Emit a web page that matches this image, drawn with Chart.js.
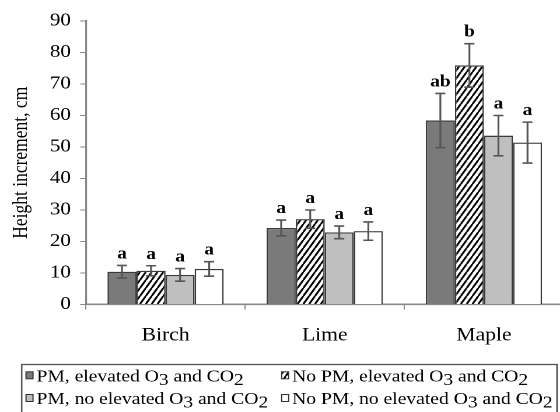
<!DOCTYPE html>
<html lang="en">
<head>
<meta charset="UTF-8" />
<title>Height increment</title>
<script src="https://cdn.jsdelivr.net/npm/chart.js"></script>
<style>
    html, body {
        margin: 0;
        padding: 0;
        width: 560px;
        height: 412px;
        overflow: hidden;
        background: #fff;
    }

    /* the original figure is stretched sideways, so draw narrow and widen */
    #wrap {
        width: 483px;
        height: 412px;
        transform: scaleX(1.1667);
        transform-origin: 0 0;
    }
</style>
</head>
<body>
<div id="wrap"><canvas id="grafico"></canvas></div>

<script>
    const categories = ['Birch', 'Lime', 'Maple'];
    const seriesLabels = [
        'PM, elevated O₃ and CO₂',
        'No PM, elevated O₃ and CO₂',
        'PM, no elevated O₃ and CO₂',
        'No PM, no elevated O₃ and CO₂'
    ];

    const pmElevated = [10.4, 24.3, 58.4];
    const noPmElevated = [10.7, 27.1, 75.9];
    const pmNotElevated = [9.4, 22.9, 53.6];
    const noPmNotElevated = [11.3, 23.3, 51.4];

    const pmElevatedErr = [2.0, 2.5, 8.6];
    const noPmElevatedErr = [1.6, 2.9, 6.9];
    const pmNotElevatedErr = [2.0, 2.0, 6.4];
    const noPmNotElevatedErr = [2.3, 2.9, 6.5];

    const pmElevatedSig = ['a', 'a', 'ab'];
    const noPmElevatedSig = ['a', 'a', 'b'];
    const pmNotElevatedSig = ['a', 'a', 'a'];
    const noPmNotElevatedSig = ['a', 'a', 'a'];

    const yMin = 0, yMax = 90, yStep = 10;

    const serif = '"Liberation Serif", "Times New Roman", serif';
    Chart.defaults.font.family = serif;
    Chart.defaults.color = '#000';

    // diagonal hatch, drawn at 2x and scaled down
    function hatch() {
        const c = document.createElement('canvas');
        c.width = 10; c.height = 16;
        const g = c.getContext('2d');
        g.fillStyle = '#fff';
        g.fillRect(0, 0, 10, 16);
        g.strokeStyle = '#000';
        g.lineWidth = 3.4;
        g.beginPath();
        for (let k = -1; k <= 1; k++) {
            g.moveTo(k * 10, 16);
            g.lineTo(k * 10 + 10, 0);
        }
        g.stroke();
        const p = g.createPattern(c, 'repeat');
        p.setTransform(new DOMMatrix().scale(0.5));
        return p;
    }

    // draws ₀..₉ as full size digits dropped below the line
    function drawLabel(ctx, text, x, y) {
        for (const ch of text) {
            const code = ch.charCodeAt(0);
            let s = ch, dy = 0;
            if (code >= 0x2080 && code <= 0x2089) {
                s = String(code - 0x2080);
                dy = 3.5;
            }
            ctx.fillText(s, x, y + dy);
            x += ctx.measureText(s).width;
        }
    }

    const extras = {
        id: 'extras',
        afterDatasetsDraw(chart) {
            const ctx = chart.ctx;
            const y = chart.scales.y;
            chart.data.datasets.forEach((ds, i) => {
                chart.getDatasetMeta(i).data.forEach((bar, j) => {
                    const v = ds.data[j], e = ds.errors[j];
                    const top = y.getPixelForValue(v + e);
                    const bot = y.getPixelForValue(v - e);
                    ctx.save();
                    ctx.strokeStyle = '#555';
                    ctx.lineWidth = 1.6;
                    ctx.beginPath();
                    ctx.moveTo(bar.x, top); ctx.lineTo(bar.x, bot);
                    ctx.moveTo(bar.x - 4.3, top); ctx.lineTo(bar.x + 4.3, top);
                    ctx.moveTo(bar.x - 4.3, bot); ctx.lineTo(bar.x + 4.3, bot);
                    ctx.stroke();
                    ctx.fillStyle = '#000';
                    ctx.font = 'bold 16.5px ' + serif;
                    ctx.textAlign = 'center';
                    ctx.textBaseline = 'alphabetic';
                    ctx.fillText(ds.sig[j], bar.x, top - 7);
                    ctx.restore();
                });
            });
        },
        afterDraw(chart) {
            const ctx = chart.ctx;
            ctx.save();
            ctx.strokeStyle = '#555';
            ctx.lineWidth = 1.3;
            ctx.strokeRect(18.6, 364.5, 477.4 - 18.6, 60);
            ctx.font = '16.8px ' + serif;
            ctx.textBaseline = 'alphabetic';
            ctx.textAlign = 'left';
            chart.data.datasets.forEach((ds, i) => {
                const x = [22.3, 241.4][i % 2];
                const base = [381.3, 404][Math.floor(i / 2)];
                ctx.fillStyle = ds.backgroundColor;
                ctx.fillRect(x, base - 9.5, 6, 7);
                ctx.strokeStyle = '#333';
                ctx.lineWidth = 1;
                ctx.strokeRect(x, base - 9.5, 6, 7);
                ctx.fillStyle = '#000';
                drawLabel(ctx, ds.label, x + 9, base);
            });
            ctx.restore();
        }
    };

    function serie(label, data, errors, sig, color) {
        return {
            label: label,
            data: data,
            errors: errors,
            sig: sig,
            backgroundColor: color,
            borderColor: '#3a3a3a',
            borderWidth: 1.3,
            categoryPercentage: 0.73,
            barPercentage: 1.0
        };
    }

    const ctx = document.getElementById('grafico').getContext('2d');
    const grafico = new Chart(ctx, {
        type: 'bar',
        data: {
            labels: categories,
            datasets: [
                serie(seriesLabels[0], pmElevated, pmElevatedErr, pmElevatedSig, '#7a7a7a'),
                serie(seriesLabels[1], noPmElevated, noPmElevatedErr, noPmElevatedSig, hatch()),
                serie(seriesLabels[2], pmNotElevated, pmNotElevatedErr, pmNotElevatedSig, '#bfbfbf'),
                serie(seriesLabels[3], noPmNotElevated, noPmNotElevatedErr, noPmNotElevatedSig, '#ffffff')
            ]
        },
        options: {
            responsive: true,
            maintainAspectRatio: false,
            devicePixelRatio: 2,
            animation: false,
            layout: { padding: { top: 21, right: 0, bottom: 0, left: 0 } },
            plugins: {
                legend: { display: false },
                tooltip: { enabled: false }
            },
            scales: {
                x: {
                    grid: { display: true, drawOnChartArea: false, drawTicks: true, tickLength: 5, color: '#888' },
                    border: { display: true, color: '#888', width: 1.6 },
                    ticks: { font: { size: 18.5 }, padding: 15, color: '#000' },
                    afterFit(scale) { scale.height = 107.5; }
                },
                y: {
                    min: yMin,
                    max: yMax,
                    grid: { display: true, drawOnChartArea: false, drawTicks: true, tickLength: 5, color: '#888' },
                    border: { display: true, color: '#888', width: 1.6 },
                    ticks: { stepSize: yStep, font: { size: 18 }, padding: 8, color: '#000' },
                    title: {
                        display: true,
                        text: 'Height increment, cm',
                        font: { size: 17.5 },
                        color: '#000',
                        padding: { top: 8, bottom: 0 }
                    },
                    afterFit(scale) { scale.width = 73.7; }
                }
            }
        },
        plugins: [extras]
    });
</script>
</body>
</html>
